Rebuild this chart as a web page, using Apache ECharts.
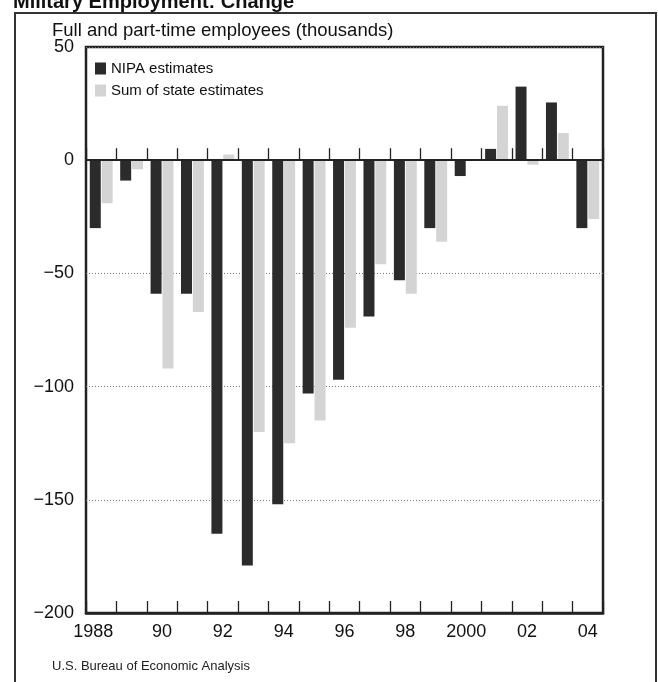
<!DOCTYPE html>
<html>
<head>
<meta charset="utf-8">
<script src="https://cdn.jsdelivr.net/npm/echarts@6/dist/echarts.min.js"></script>
<style>
  html, body { margin: 0; padding: 0; background: #fff; }
  #chart { width: 658px; height: 682px; }
</style>
</head>
<body>
<div id="chart"></div>
<script>
// ---- data ----
var years = ['1988','1989','1990','1991','1992','1993','1994','1995','1996','1997','1998','1999','2000','2001','2002','2003','2004'];
var tickLabels = ['1988','','90','','92','','94','','96','','98','','2000','','02','','04'];
var nipaEstimates = [-30, -9, -59, -59, -165, -179, -152, -103, -97, -69, -53, -30, -7, 5, 32.5, 25.5, -30];
var stateEstimates = [-19, -4, -92, -67, 2.5, -120, -125, -115, -74, -46, -59, -36, 0.3, 24, -2, 12, -26];
var seriesNames = ['NIPA estimates', 'Sum of state estimates'];
var yTicks = { min: -200, max: 50, interval: 50 };

var FONT = "'Liberation Sans', Arial, Helvetica, sans-serif";
var chart = echarts.init(document.getElementById('chart'), null, { renderer: 'canvas' });

var option = {
  backgroundColor: '#ffffff',
  animation: false,
  textStyle: { fontFamily: FONT },
  grid: {
    left: 86, right: 55, top: 47, bottom: 69,
    show: true, borderColor: '#222', borderWidth: 2.5, backgroundColor: 'transparent',
    containLabel: false
  },
  legend: {
    data: seriesNames,
    orient: 'vertical',
    left: 95, top: 61,
    padding: 0,
    itemWidth: 11, itemHeight: 12, itemGap: 7,
    icon: 'rect',
    textStyle: { fontFamily: FONT, fontSize: 15, color: '#111' }
  },
  xAxis: [
    {
      type: 'category',
      data: years,
      position: 'bottom',
      boundaryGap: true,
      axisLine: { onZero: false, lineStyle: { color: '#222', width: 2.5 } },
      axisTick: { show: true, inside: true, length: 12, interval: 0, lineStyle: { color: '#222', width: 1.3 } },
      axisLabel: {
        interval: 0, margin: 10, fontSize: 18, color: '#111', fontFamily: FONT,
        formatter: function (v, i) {
          var t = tickLabels[i];
          if (!t) return '';
          return i === 0 ? '{a|' + t + '}' : t;
        },
        rich: { a: { fontSize: 18, color: '#111', fontFamily: FONT, padding: [0, 16, 0, 0] } }
      },
      splitLine: { show: false }
    },
    {
      type: 'category',
      data: years,
      position: 'top',
      z: 5,
      boundaryGap: true,
      axisLine: { onZero: true, lineStyle: { color: '#222', width: 2 } },
      axisTick: { show: true, inside: false, length: 12, interval: 0, lineStyle: { color: '#222', width: 1.3 } },
      axisLabel: { show: false },
      splitLine: { show: false }
    }
  ],
  yAxis: {
    type: 'value',
    min: yTicks.min, max: yTicks.max, interval: yTicks.interval,
    axisLine: { show: false },
    axisTick: { show: false },
    axisLabel: {
      margin: 12, fontSize: 18, color: '#111', fontFamily: FONT,
      formatter: function (v) { return v < 0 ? '\u2212' + Math.abs(v) : String(v); }
    },
    splitLine: { show: true, lineStyle: { color: '#777', width: 1, type: [1, 2] } }
  },
  series: [
    {
      name: seriesNames[0], type: 'bar', xAxisIndex: 0, data: nipaEstimates,
      barWidth: 11, barGap: '8%', itemStyle: { color: '#2b2b2b' }
    },
    {
      name: seriesNames[1], type: 'bar', xAxisIndex: 0, data: stateEstimates,
      barWidth: 11, barGap: '8%', itemStyle: { color: '#d4d4d4' }
    }
  ],
  graphic: [
    { type: 'rect', silent: true, z: 100,
      shape: { x: 15, y: 13, width: 641, height: 720 },
      style: { fill: 'none', stroke: '#333', lineWidth: 2 } },
    { type: 'text', silent: true, left: 13, top: -8,
      style: { text: 'Military Employment: Change', font: 'bold 20px ' + FONT, fill: '#111' } },
    { type: 'text', silent: true, left: 52, top: 21,
      style: { text: 'Full and part-time employees (thousands)', font: '18.5px ' + FONT, fill: '#111' } },
    { type: 'text', silent: true, left: 52, top: 660,
      style: { text: 'U.S. Bureau of Economic Analysis', font: '13px ' + FONT, fill: '#222' } }
  ]
};
chart.setOption(option);
</script>
</body>
</html>
